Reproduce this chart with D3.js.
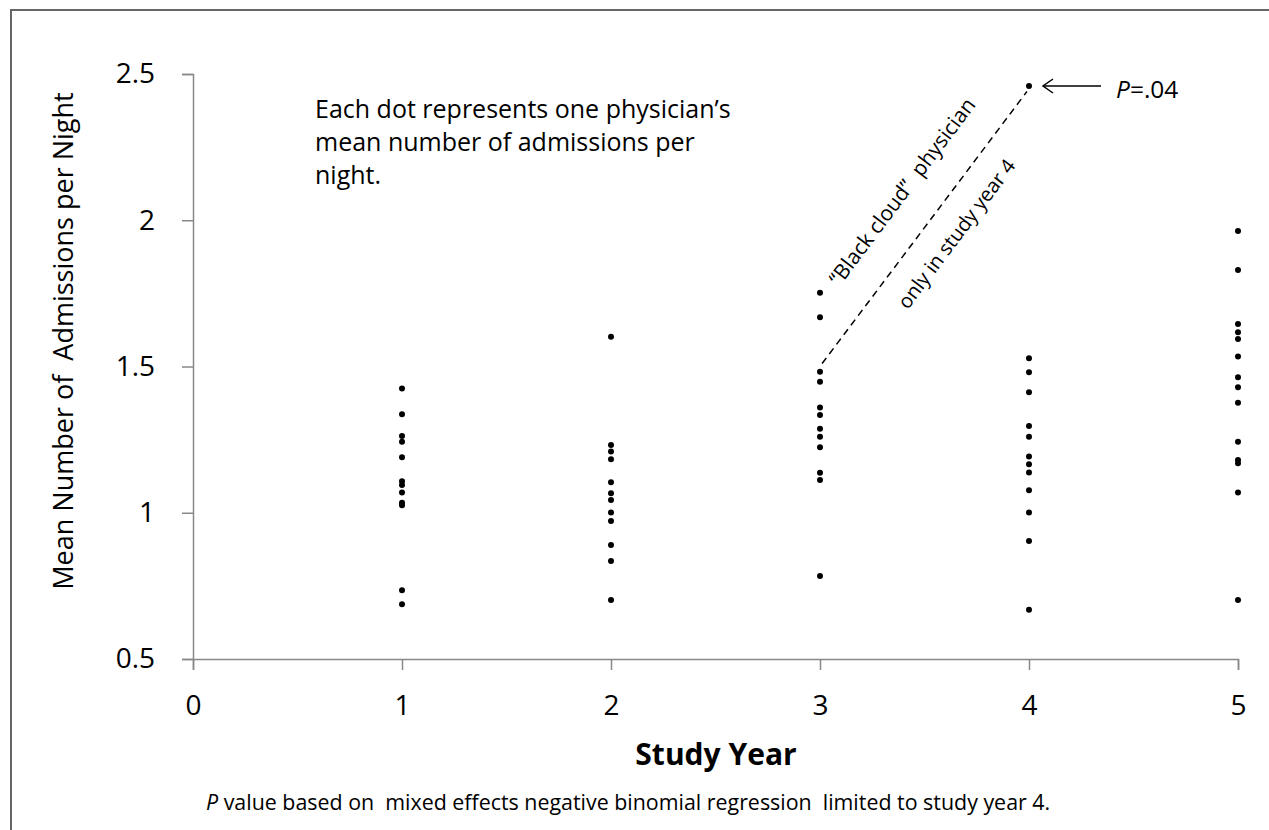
<!DOCTYPE html>
<html>
<head>
<meta charset="utf-8">
<script src="https://cdn.jsdelivr.net/npm/d3@7"></script>
<style>
  body { margin: 0; background: #fff; }
  svg { display: block; font-family: 'Open Sans', sans-serif; }
</style>
</head>
<body>
<div id="chart"></div>
<script>
// mean admissions per night, one value per physician, by study year
const year1 = [1.425, 1.337, 1.262, 1.243, 1.19, 1.108, 1.095, 1.069, 1.034, 1.026, 0.735, 0.687];
const year2 = [1.602, 1.232, 1.209, 1.183, 1.104, 1.067, 1.044, 1.001, 0.972, 0.89, 0.835, 0.702];
const year3 = [1.752, 1.668, 1.482, 1.448, 1.36, 1.334, 1.287, 1.26, 1.224, 1.137, 1.112, 0.784];
const year4 = [2.459, 1.528, 1.48, 1.412, 1.297, 1.26, 1.192, 1.166, 1.138, 1.077, 1.001, 0.903, 0.668];
const year5 = [1.963, 1.83, 1.645, 1.617, 1.594, 1.534, 1.463, 1.429, 1.376, 1.243, 1.18, 1.169, 1.069, 0.702];
const years = [1, 2, 3, 4, 5];
const xTicks = [0, 1, 2, 3, 4, 5];
const yTicks = [0.5, 1, 1.5, 2, 2.5];
const yTickLabels = ['0.5', '1', '1.5', '2', '2.5'];
// dashed annotation line from the year 3 cluster to the year 4 outlier
const cloudLine = [[3.01, 1.51], [3.99, 2.44]];

const W = 1269;
const H = 830;

const svg = d3.select('#chart').append('svg')
  .attr('width', W)
  .attr('height', H);

// page frame (only top/left edges fall inside the picture)
svg.append('rect')
  .attr('x', 11).attr('y', 10)
  .attr('width', 1300).attr('height', 900)
  .attr('fill', 'none')
  .attr('stroke', '#666')
  .attr('stroke-width', 2);

const x = d3.scaleLinear().domain([0, 5]).range([193, 1238]);
const y = d3.scaleLinear().domain([0.5, 2.5]).range([659, 74]);

// x axis
const xAx = svg.append('g')
  .attr('transform', `translate(0, ${y(0.5)})`)
  .call(d3.axisBottom(x).tickValues(xTicks).tickSize(11).tickFormat(d3.format('d')));
xAx.attr('font-family', null).attr('font-size', null);
xAx.select('.domain').attr('stroke', '#888').attr('stroke-width', 1.5);
xAx.selectAll('.tick line').attr('stroke', '#888').attr('stroke-width', 1.5);
xAx.selectAll('.tick text')
  .attr('font-size', 28).attr('fill', '#000')
  .attr('dy', null).attr('y', 56);

// y axis
const yAx = svg.append('g')
  .attr('transform', `translate(${x(0)}, 0)`)
  .call(d3.axisLeft(y).tickValues(yTicks).tickSize(11).tickPadding(27)
    .tickFormat((d, i) => yTickLabels[i]));
yAx.attr('font-family', null).attr('font-size', null);
yAx.select('.domain').attr('stroke', '#888').attr('stroke-width', 1.5);
yAx.selectAll('.tick line').attr('stroke', '#888').attr('stroke-width', 1.5);
yAx.selectAll('.tick text').attr('font-size', 28).attr('fill', '#000');

// axis titles
svg.append('text')
  .attr('x', 716).attr('y', 765)
  .attr('text-anchor', 'middle')
  .attr('font-size', 30)
  .attr('font-weight', 'bold')
  .text('Study Year');

svg.append('text')
  .attr('transform', 'translate(73, 341) rotate(-90)')
  .attr('text-anchor', 'middle')
  .attr('font-size', 27)
  .attr('xml:space', 'preserve')
  .text('Mean Number of  Admissions per Night');

// dots
const series = [year1, year2, year3, year4, year5];
series.forEach((vals, i) => {
  svg.append('g')
    .selectAll('circle')
    .data(vals)
    .join('circle')
    .attr('cx', x(years[i]))
    .attr('cy', (d) => y(d))
    .attr('r', 3)
    .attr('fill', '#000');
});

// note text
const note = svg.append('text')
  .attr('x', 315)
  .attr('font-size', 25);
['Each dot represents one physician\u2019s', 'mean number of admissions per', 'night.']
  .forEach((t, i) => {
    note.append('tspan').attr('x', 315).attr('y', 118 + i * 33).text(t);
  });

// dashed line
svg.append('path')
  .datum(cloudLine)
  .attr('fill', 'none')
  .attr('stroke', '#000')
  .attr('stroke-width', 1.5)
  .attr('stroke-dasharray', '7,5')
  .attr('d', d3.line().x((d) => x(d[0])).y((d) => y(d[1])));

// rotated annotation text
const ang = Math.atan2(y(cloudLine[1][1]) - y(cloudLine[0][1]), x(cloudLine[1][0]) - x(cloudLine[0][0])) * 180 / Math.PI;
svg.append('text')
  .attr('transform', `translate(908, 196) rotate(${ang})`)
  .attr('text-anchor', 'middle')
  .attr('font-size', 21)
  .attr('xml:space', 'preserve')
  .text('\u201CBlack cloud\u201D  physician');
svg.append('text')
  .attr('transform', `translate(962, 238) rotate(${ang})`)
  .attr('text-anchor', 'middle')
  .attr('font-size', 20)
  .text('only in study year 4');

// arrow to outlier
const outlier = year4[0];
const ay = y(outlier);
svg.append('line')
  .attr('x1', 1101).attr('y1', ay)
  .attr('x2', x(4) + 14).attr('y2', ay)
  .attr('stroke', '#000').attr('stroke-width', 1.5);
svg.append('path')
  .attr('d', `M${x(4) + 24},${ay - 7} L${x(4) + 14},${ay} L${x(4) + 24},${ay + 7}`)
  .attr('fill', 'none').attr('stroke', '#000').attr('stroke-width', 1.5);

const pt = svg.append('text')
  .attr('x', 1116).attr('y', ay + 12)
  .attr('font-size', 24.5);
pt.append('tspan').attr('font-style', 'italic').text('P');
pt.append('tspan').text('=.04');

// footnote
const foot = svg.append('text')
  .attr('x', 206).attr('y', 810)
  .attr('font-size', 21.4)
  .attr('xml:space', 'preserve');
foot.append('tspan').attr('font-style', 'italic').text('P');
foot.append('tspan').text(' value based on  mixed effects negative binomial regression  limited to study year 4.');
</script>
</body>
</html>
